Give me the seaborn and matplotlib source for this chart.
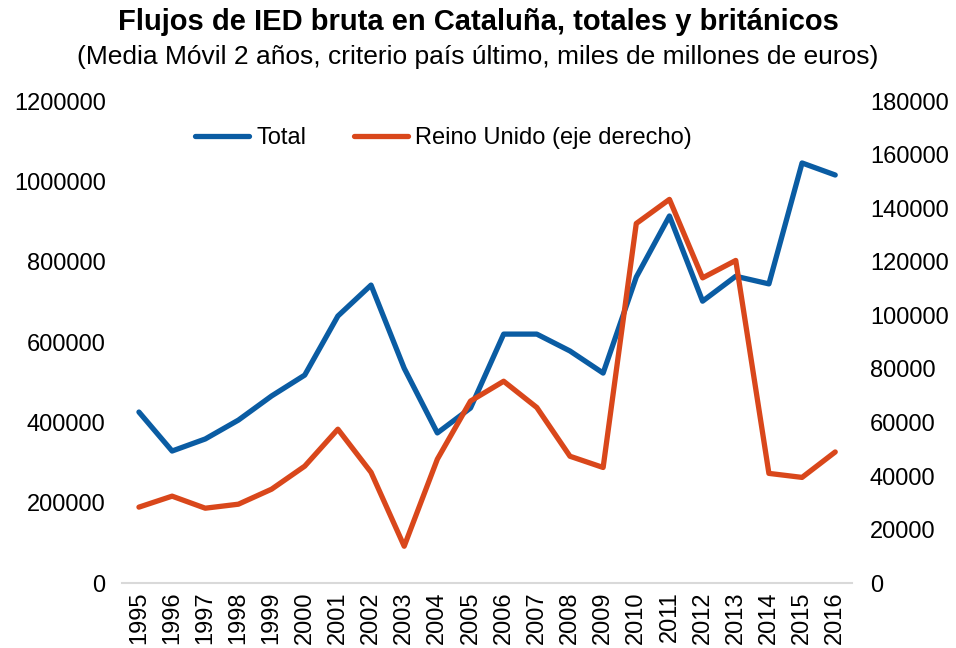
import matplotlib
matplotlib.use("Agg")
import matplotlib.pyplot as plt
import numpy as np
import pandas as pd
import seaborn as sns

years = list(range(1995, 2017))
total = [426000, 329000, 359000, 406000, 466000, 518000, 665000, 742000,
         535000, 374000, 436000, 620000, 620000, 578000, 523000, 762000,
         914000, 702000, 764000, 745000, 1046000, 1016000]
reino_unido = [28400, 32500, 28000, 29500, 35100, 43700, 57500, 41400,
               13800, 46300, 68000, 75400, 65600, 47400, 43200, 134300,
               143300, 114000, 120500, 41000, 39500, 49000]

df = pd.DataFrame({"year": years, "total": total, "uk": reino_unido})

sns.set_style("white")
plt.rcParams["font.family"] = ["Liberation Sans", "DejaVu Sans"]
plt.rcParams["text.color"] = "black"
plt.rcParams["xtick.color"] = "black"
plt.rcParams["ytick.color"] = "black"

blue = "#0A5CA3"
orange = "#D9471B"

fig = plt.figure(figsize=(9.56, 6.48), dpi=100)
ax = fig.add_axes([0.128, 0.100, 0.763, 0.744])
ax2 = ax.twinx()

sns.lineplot(data=df, x="year", y="total", ax=ax, color=blue, linewidth=3.8,
             label="Total", legend=False)
sns.lineplot(data=df, x="year", y="uk", ax=ax2, color=orange, linewidth=3.8,
             label="Reino Unido (eje derecho)", legend=False)

ax.set_xlim(1994.5, 2016.5)
ax.set_ylim(0, 1200000)
ax2.set_ylim(0, 180000)
ax.set_yticks(np.arange(0, 1200001, 200000))
ax.set_yticklabels([str(v) for v in range(0, 1200001, 200000)])
ax2.set_yticks(np.arange(0, 180001, 20000))
ax2.set_yticklabels([str(v) for v in range(0, 180001, 20000)])
ax.set_xticks(years)
ax.set_xticklabels([str(y) for y in years], rotation=90)
ax.set_xlabel("")
ax.set_ylabel("")
ax2.set_ylabel("")

for a in (ax, ax2):
    for s in ("top", "right", "left", "bottom"):
        a.spines[s].set_visible(False)
    a.tick_params(length=0, labelsize=17, colors="black")
ax.spines["bottom"].set_visible(True)
ax.spines["bottom"].set_color("#d9d9d9")
ax.spines["bottom"].set_linewidth(1.5)
ax.tick_params(axis="y", pad=12)
ax.tick_params(axis="x", pad=6)
ax2.tick_params(axis="y", pad=13)

h1, l1 = ax.get_legend_handles_labels()
h2, l2 = ax2.get_legend_handles_labels()
ax2.legend(h1 + h2, l1 + l2, loc="upper center", bbox_to_anchor=(0.44, 0.99),
           ncol=2, frameon=False, fontsize=17, handlelength=2.3,
           handletextpad=0.3, columnspacing=2.0)

fig.text(0.5, 0.966, "Flujos de IED bruta en Cataluña, totales y británicos",
         ha="center", va="center", fontsize=21, fontweight="bold")
fig.text(0.5, 0.912, "(Media Móvil 2 años, criterio país último, miles de millones de euros)",
         ha="center", va="center", fontsize=19)

fig.savefig("out.png", dpi=100)
